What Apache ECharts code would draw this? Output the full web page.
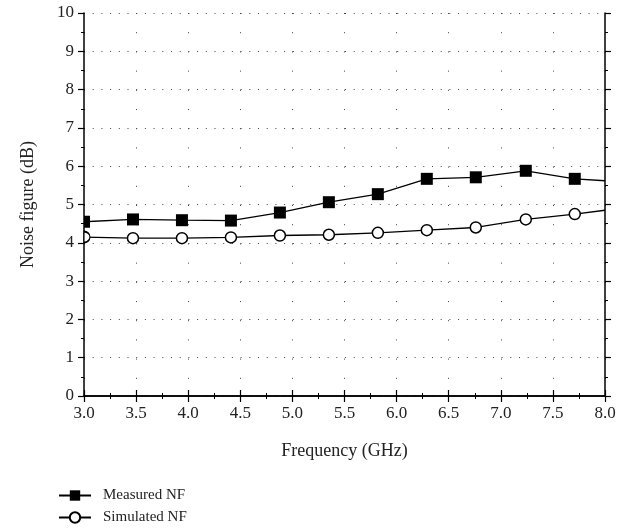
<!DOCTYPE html>
<html><head><meta charset="utf-8">
<script src="https://cdn.jsdelivr.net/npm/echarts@6/dist/echarts.min.js"></script>
<style>html,body{margin:0;padding:0;background:#fff}#c{width:634px;height:532px}</style>
</head><body><div id="c"></div>
<script>
var freq = [3.0, 3.47, 3.94, 4.41, 4.88, 5.35, 5.82, 6.29, 6.76, 7.24, 7.71, 8.0];
var measuredNF = [4.55, 4.61, 4.59, 4.58, 4.79, 5.06, 5.27, 5.67, 5.71, 5.88, 5.67, 5.62];
var simulatedNF = [4.15, 4.12, 4.12, 4.14, 4.19, 4.21, 4.26, 4.33, 4.40, 4.61, 4.75, 4.85];
var xTicks = ['3.0','3.5','4.0','4.5','5.0','5.5','6.0','6.5','7.0','7.5','8.0'];

var FONT = 'Liberation Serif';
function build(vals, halfPath, halfSize) {
  return vals.map(function (v, i) {
    var d = { value: [freq[i], v] };
    if (i === 0) { d.symbol = halfPath; d.symbolSize = halfSize; d.symbolOffset = [halfSize[0] / 2, 0]; }
    if (i === vals.length - 1) { d.symbol = 'none'; }
    return d;
  });
}
var chart = echarts.init(document.getElementById('c'));
var axisBase = {
  axisLine: { lineStyle: { color: '#000', width: 1.5 } },
  axisTick: { inside: false, length: 6, lineStyle: { color: '#000', width: 1.2 } },
  minorTick: { show: true, splitNumber: 2, length: 3, lineStyle: { color: '#000', width: 1 } }
};
chart.setOption({
  animation: false,
  grid: { left: 84, right: 29, top: 13, bottom: 136 },
  legend: {
    orient: 'vertical', left: 58, top: 487, padding: 0, itemGap: 5, itemWidth: 32, itemHeight: 13,
    textStyle: { fontFamily: FONT, fontSize: 15, color: '#222', padding: [0, 0, 0, 7], lineHeight: 17 },
    data: ['Measured NF', 'Simulated NF']
  },
  xAxis: [
    Object.assign({}, axisBase, {
      type: 'value', min: 3, max: 8, interval: 0.5, position: 'bottom',
      name: 'Frequency (GHz)', nameLocation: 'middle', nameGap: 46,
      nameTextStyle: { fontFamily: FONT, fontSize: 18, color: '#222' },
      axisLabel: { margin: 9, fontFamily: FONT, fontSize: 17, color: '#222',
        formatter: function (v) { var i = Math.round((v - 3) / 0.5); return xTicks[i]; } },
      splitLine: { show: true, lineStyle: { type: [1, 18.2], color: '#444', width: 1 } }
    }),
    Object.assign({}, axisBase, {
      type: 'value', min: 3, max: 8, interval: 0.5, position: 'top',
      axisLabel: { show: false }, splitLine: { show: false }
    })
  ],
  yAxis: [
    Object.assign({}, axisBase, {
      type: 'value', min: 0, max: 10, interval: 1, position: 'left',
      name: 'Noise figure (dB)', nameLocation: 'middle', nameGap: 47,
      nameTextStyle: { fontFamily: FONT, fontSize: 18, color: '#222' },
      axisLabel: { margin: 10, fontFamily: FONT, fontSize: 17, color: '#222' },
      splitLine: { show: true, lineStyle: { type: [1, 7.7], color: '#444', width: 1 } }
    }),
    Object.assign({}, axisBase, {
      type: 'value', min: 0, max: 10, interval: 1, position: 'right',
      axisLabel: { show: false }, splitLine: { show: false }
    })
  ],
  series: [
    {
      name: 'Measured NF', type: 'line', clip: true,
      symbol: 'rect', symbolSize: 12,
      lineStyle: { color: '#000', width: 1.3 },
      itemStyle: { color: '#000', borderColor: '#000', borderWidth: 0 },
      data: build(measuredNF, 'path://M0,0 L6,0 L6,12 L0,12 Z', [6, 12])
    },
    {
      name: 'Simulated NF', type: 'line', clip: true,
      symbol: 'circle', symbolSize: 11,
      lineStyle: { color: '#000', width: 1.3 },
      itemStyle: { color: '#fff', borderColor: '#000', borderWidth: 1.5 },
      data: build(simulatedNF, 'path://M0,0 A6,6 0 0 1 0,12 Z', [6, 11])
    }
  ]
});
</script></body></html>
